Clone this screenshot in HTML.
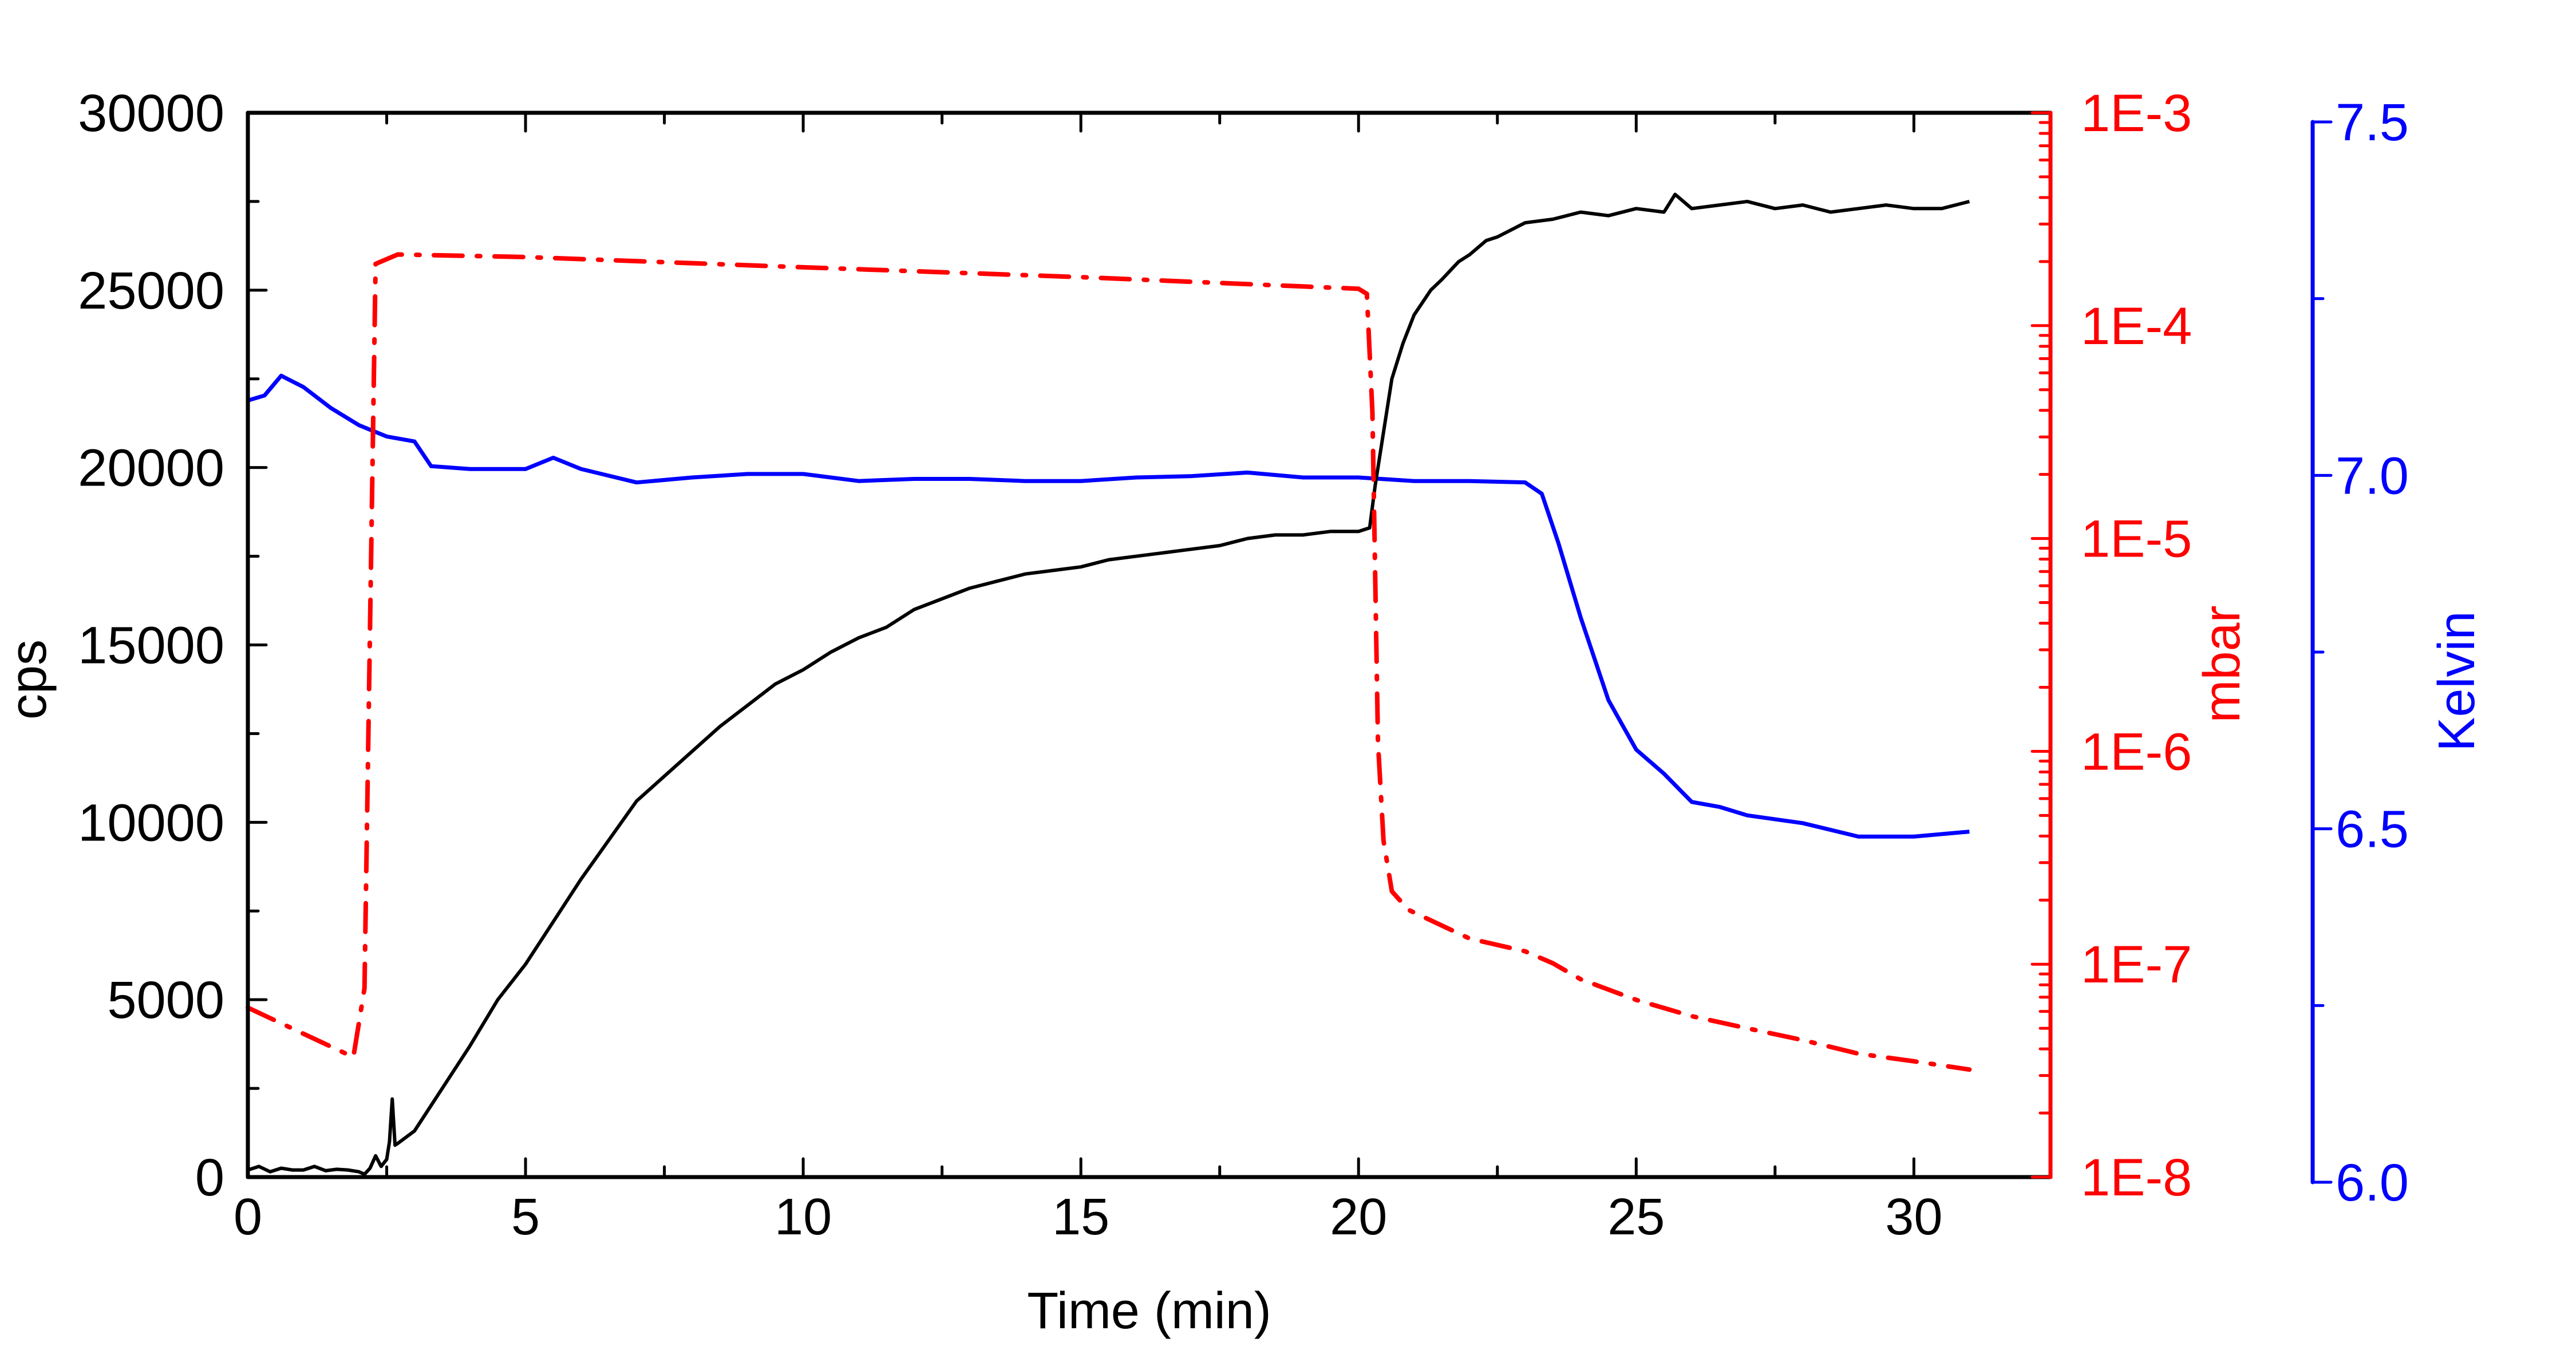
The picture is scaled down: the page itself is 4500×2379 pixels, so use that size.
<!DOCTYPE html>
<html><head><meta charset="utf-8"><style>
html,body{margin:0;padding:0;background:#fff;}
svg{display:block;font-family:"Liberation Sans",Arial,sans-serif;}
</style></head>
<body>
<svg id="chart" width="4500" height="2379" viewBox="0 0 4500 2379" xmlns="http://www.w3.org/2000/svg"></svg>
<script>
const xTicks=[0,5,10,15,20,25,30];
const cpsTicks=[0,5000,10000,15000,20000,25000,30000];
const mbarTicks=[-8,-7,-6,-5,-4,-3];
const mbarTickLabels=["1E-8","1E-7","1E-6","1E-5","1E-4","1E-3"];
const kTicks=[6.0,6.5,7.0,7.5];
const kTickLabels=["6.0","6.5","7.0","7.5"];

const cpsT=[0,0.2,0.4,0.6,0.8,1,1.2,1.4,1.6,1.8,2,2.1,2.2,2.3,2.4,2.5,2.55,2.6,2.65,2.7,3,3.5,4,4.5,5,5.5,6,6.5,7,7.5,8,8.5,9,9.5,10,10.5,11,11.5,12,12.5,13,13.5,14,14.5,15,15.5,16,16.5,17,17.5,18,18.5,19,19.5,20,20.2,20.3,20.4,20.5,20.6,20.8,21,21.3,21.5,21.8,22,22.3,22.5,23,23.5,24,24.5,25,25.5,25.7,26,26.5,27,27.5,28,28.5,29,29.5,30,30.5,31];
const cpsV=[200,300,150,250,200,200,300,180,220,200,150,80,250,600,300,500,1000,2200,900,950,1300,2500,3700,5000,6000,7200,8400,9500,10600,11300,12000,12700,13300,13900,14300,14800,15200,15500,16000,16300,16600,16800,17000,17100,17200,17400,17500,17600,17700,17800,18000,18100,18100,18200,18200,18300,19500,20500,21500,22500,23500,24300,25000,25300,25800,26000,26400,26500,26900,27000,27200,27100,27300,27200,27700,27300,27400,27500,27300,27400,27200,27300,27400,27300,27300,27500];

const mbarT=[0,1.9,2.1,2.3,2.7,5,10,15,20,20.15,20.25,20.3,20.35,20.45,20.6,20.9,22,23,23.5,24,25,26,27,28,29,30,31];
const mbarV=[6.25e-8,3.66e-8,7.7e-8,1.95e-4,2.16e-4,2.1e-4,1.88e-4,1.69e-4,1.49e-4,1.41e-4,3.9e-5,6.6e-6,1.1e-6,3.8e-7,2.2e-7,1.8e-7,1.32e-7,1.15e-7,1.01e-7,8.5e-8,6.8e-8,5.7e-8,5.0e-8,4.4e-8,3.8e-8,3.5e-8,3.2e-8];

const kT=[0,0.3,0.6,1,1.5,2,2.5,3,3.3,4,5,5.5,6,7,8,9,10,11,12,13,14,15,16,17,18,19,20,21,22,23,23.3,23.6,24,24.5,25,25.5,26,26.5,27,28,29,30,31];
const kV=[7.106,7.113,7.141,7.125,7.095,7.071,7.055,7.048,7.013,7.009,7.009,7.025,7.009,6.990,6.997,7.002,7.002,6.992,6.995,6.995,6.992,6.992,6.997,6.999,7.004,6.997,6.997,6.992,6.992,6.990,6.974,6.904,6.799,6.682,6.612,6.578,6.538,6.531,6.519,6.508,6.489,6.489,6.496];

const L=433,R=3582,T=197,B=2056,XMAX=32.46;
const KAX=4040,KTOP=213,KBOT=2065;
const sx=t=>L+(R-L)*t/XMAX;
const sy=v=>B-(B-T)*v/30000;
const sm=v=>B-(B-T)*(Math.log10(v)+8)/5;
const sk=v=>KBOT-(KBOT-KTOP)*(v-6)/1.5;
const svg=document.getElementById('chart');
const NS='http://www.w3.org/2000/svg';
function mk(tag,attrs,parent){const e=document.createElementNS(NS,tag);for(const k in attrs)e.setAttribute(k,attrs[k]);(parent||svg).appendChild(e);return e;}
function line(x1,y1,x2,y2,c,w,g){return mk('line',{x1,y1,x2,y2,stroke:c,'stroke-width':w,'stroke-linecap':'round'},g);}
function text(x,y,s,c,size,anchor,g){const t=mk('text',{x,y,fill:c,'font-size':size,'text-anchor':anchor},g);t.textContent=s;return t;}

const gK=mk('g',{});


mk('polyline',{points:kT.map((t,i)=>sx(t)+','+sk(kV[i])).join(' '),fill:'none',stroke:'#0000ff','stroke-width':7,'stroke-linejoin':'round'},gK);
const gC=mk('g',{});


mk('polyline',{points:cpsT.map((t,i)=>sx(t)+','+sy(cpsV[i])).join(' '),fill:'none',stroke:'#000','stroke-width':6,'stroke-linejoin':'round'},gC);
const gM=mk('g',{});


mk('polyline',{points:mbarT.map((t,i)=>sx(t)+','+sm(mbarV[i])).join(' '),fill:'none',stroke:'#ff0000','stroke-width':8,'stroke-dasharray':'50 25 6 25','stroke-linecap':'round','stroke-linejoin':'round'},gM);

const gA=mk('g',{});


line(L,B,R,B,'#000',7,gA);line(L,T,R,T,'#000',7,gA);
xTicks.forEach(t=>{line(sx(t),B,sx(t),B-32,'#000',5,gA);line(sx(t),T,sx(t),T+32,'#000',5,gA);text(sx(t),B+100,String(t),'#000',90,'middle',gA);});
for(let t=2.5;t<XMAX;t+=5){line(sx(t),B,sx(t),B-18,'#000',5,gA);line(sx(t),T,sx(t),T+18,'#000',5,gA);}
const xt=text((L+R)/2,2320,'Time (min)','#000',90,'middle',gA);

const gY=mk('g',{});


line(L,T,L,B,'#000',7,gY);
cpsTicks.forEach(v=>{line(L,sy(v),L+32,sy(v),'#000',5,gY);text(392,sy(v)+32,String(v),'#000',92,'end',gY);});
for(let v=2500;v<30000;v+=5000)line(L,sy(v),L+18,sy(v),'#000',5,gY);
const yt=text(0,0,'cps','#000',90,'middle',gY);
yt.setAttribute('transform','translate(80,1187) rotate(-90)');


const gR=mk('g',{});


line(R,T,R,B,'#ff0000',7,gR);
mbarTicks.forEach((e,i)=>{const y=B-(B-T)*(e+8)/5;line(R,y,R-32,y,'#ff0000',5,gR);text(3635,y+32,mbarTickLabels[i],'#ff0000',92,'start',gR);});
for(let e=-8;e<-3;e++)for(let m=2;m<10;m++){const y=B-(B-T)*(e+Math.log10(m)+8)/5;line(R,y,R-18,y,'#ff0000',5,gR);}
const mt=text(0,0,'mbar','#ff0000',90,'middle',gR);
mt.setAttribute('transform','translate(3912,1160) rotate(-90)');


const gB=mk('g',{});


line(KAX,KTOP,KAX,KBOT,'#0000ff',7,gB);
kTicks.forEach((v,i)=>{line(KAX,sk(v),KAX+32,sk(v),'#0000ff',5,gB);text(4080,sk(v)+32,kTickLabels[i],'#0000ff',92,'start',gB);});
for(let v=6.25;v<7.5;v+=0.5)line(KAX,sk(v),KAX+18,sk(v),'#0000ff',5,gB);
const kt=text(0,0,'Kelvin','#0000ff',90,'middle',gB);
kt.setAttribute('transform','translate(4322,1190) rotate(-90)');

</script>
</body></html>
